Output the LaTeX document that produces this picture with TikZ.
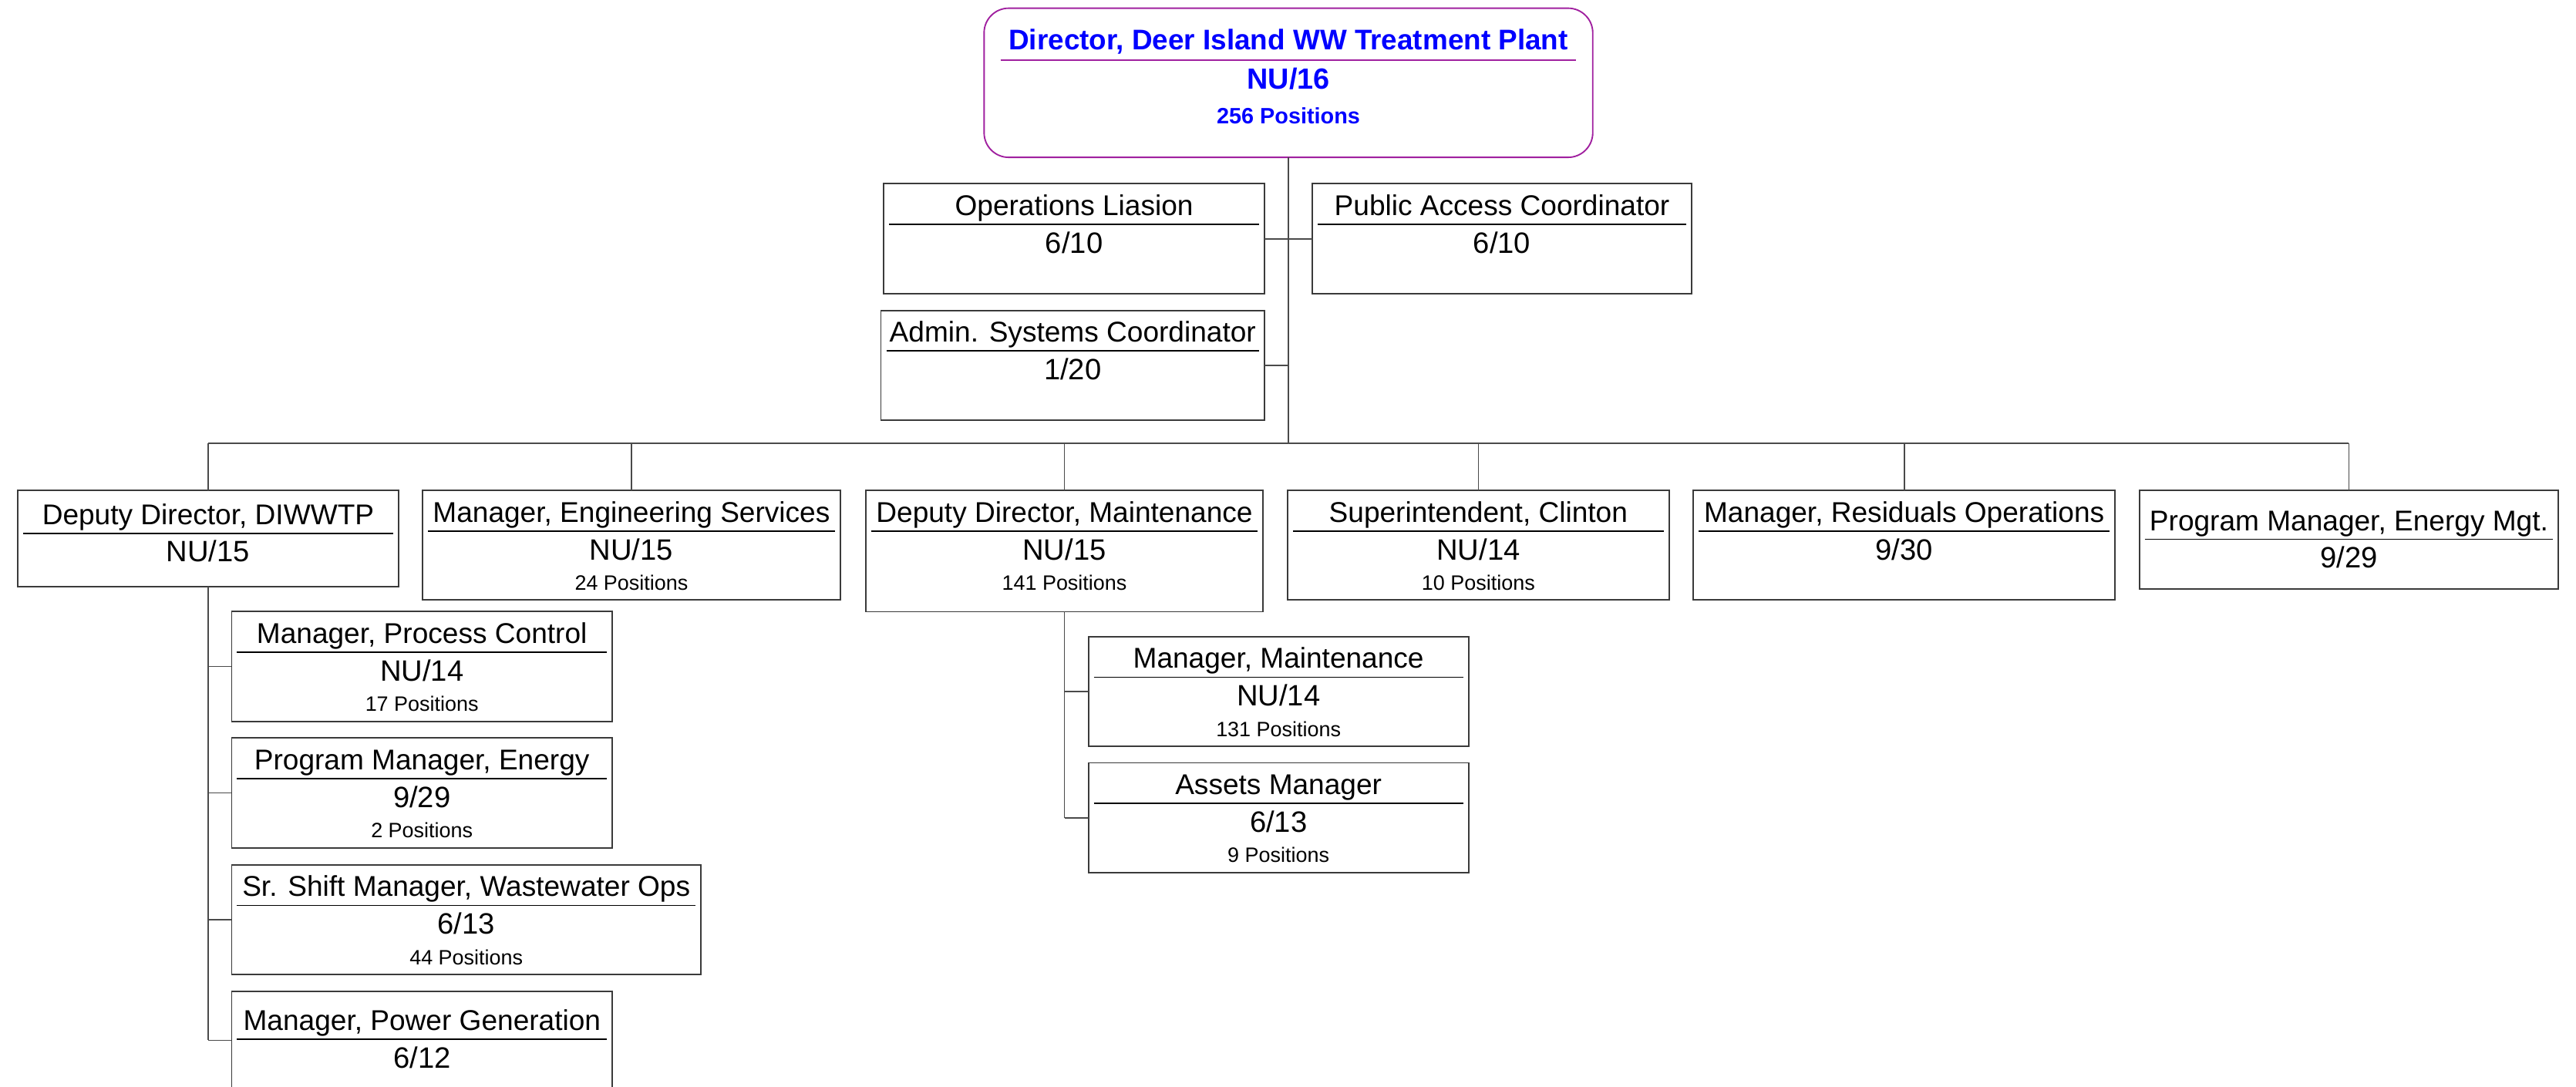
\documentclass[tikz,border=0pt]{standalone}
\usepackage{fontspec}
\setmainfont{Liberation Sans}
\usepackage{xcolor}
\definecolor{dirblue}{HTML}{0000FF}
\definecolor{dirpurple}{HTML}{A0209F}
\definecolor{boxgray}{HTML}{3A3A3A}
\definecolor{linegray}{HTML}{4A4A4A}
\usepackage{tikz}
\usetikzlibrary{calc}

% one position box: name, x1, y1, x2, y2, text shift, title, grade, positions
\newcommand{\orgbox}[9]{%
  \node[orgbox, minimum width={(#4-#2)*0.02cm}, minimum height={(#5-#3)*0.02cm}]
    (#1) at ({(#2+#4)/2}, {(#3+#5)/2}) {};
  \draw[divider] ($(#1.north west)+(3.3,24.7+#6)$) -- ($(#1.north east)+(-3.3,24.7+#6)$);
  \node[jobtitle] (#1-t) at ($(#1.north)+(0,19.3+#6)$) {#7};
  \node[grade] (#1-g) at ($(#1.north)+(0,42.2+#6)$) {#8};
  \if\relax\detokenize{#9}\relax\else
    \node[headcount] (#1-c) at ($(#1.north)+(0,60.7+#6)$) {#9};
  \fi}

\begin{document}
\begin{tikzpicture}[x=0.02cm, y=-0.02cm,
    orgbox/.style={draw=boxgray, line width=0.5pt, inner sep=0pt, outer sep=0pt},
    divider/.style={black, line width=0.5pt},
    jobtitle/.style={anchor=base, inner sep=0pt, font=\fontsize{9.9}{12}\selectfont},
    grade/.style={anchor=base, inner sep=0pt, font=\fontsize{10.2}{12}\selectfont},
    headcount/.style={anchor=base, inner sep=0pt, font=\fontsize{7.2}{9}\selectfont},
    link/.style={linegray, line width=0.45pt}]
  \useasboundingbox (0,0) rectangle (1568,661.3);
  \clip (0,0) rectangle (1568,661.3);

  % director box
  \node[draw=dirpurple, line width=0.5pt, rounded corners=0.3cm, inner sep=0pt, outer sep=0pt,
        minimum width={370.5*0.02cm}, minimum height={90.8*0.02cm}] (dir) at (784.25,50.4) {};
  \draw[dirpurple, line width=0.5pt] ($(dir.north west)+(10,31.8)$) -- ($(dir.north east)+(-10,31.8)$);
  \node[anchor=base, inner sep=0pt, text=dirblue, font=\fontsize{9.85}{12}\selectfont\bfseries]
    (dir-t) at ($(dir.north)+(0,25.5)$) {Director, Deer Island WW Treatment Plant};
  \node[anchor=base, inner sep=0pt, text=dirblue, font=\fontsize{10.1}{12}\selectfont\bfseries]
    (dir-g) at ($(dir.north)+(0,49)$) {NU/16};
  \node[anchor=base, inner sep=0pt, text=dirblue, font=\fontsize{7.7}{9}\selectfont\bfseries]
    (dir-c) at ($(dir.north)+(0,70.1)$) {256 Positions};

  % staff
  \orgbox{opsl}{537.9}{111.9}{769.7}{179}{0}{Operations Liasion}{6/10}{}
  \orgbox{pac}{798.7}{111.9}{1029.8}{179}{0}{Public Access Coordinator}{6/10}{}
  \orgbox{asc}{536.2}{189}{769.7}{255.9}{0}{Admin. Systems Coordinator}{1/20}{}

  % direct reports
  \orgbox{ddw}{10.9}{298.6}{242.5}{357.2}{1.3}{Deputy Director, DIWWTP}{NU/15}{}
  \orgbox{mes}{257.2}{298.6}{511.5}{365.3}{0}{Manager, Engineering Services}{NU/15}{24 Positions}
  \orgbox{ddm}{526.9}{298.6}{768.9}{372.4}{0}{Deputy Director, Maintenance}{NU/15}{141 Positions}
  \orgbox{sup}{783.8}{298.6}{1015.9}{365.3}{0}{Superintendent, Clinton}{NU/14}{10 Positions}
  \orgbox{mro}{1030.8}{298.6}{1287.3}{365.3}{0}{Manager, Residuals Operations}{9/30}{}
  \orgbox{pem}{1302.2}{298.6}{1557.3}{358.6}{5}{Program Manager, Energy Mgt.}{9/29}{}

  % under the deputy director
  \orgbox{mpc}{141}{372.3}{372.6}{439.2}{0}{Manager, Process Control}{NU/14}{17 Positions}
  \orgbox{pme}{141}{449.3}{372.6}{516.2}{0}{Program Manager, Energy}{9/29}{2 Positions}
  \orgbox{ssm}{141}{526.5}{426.6}{593.4}{0}{Sr. Shift Manager, Wastewater Ops}{6/13}{44 Positions}
  \orgbox{mpg}{141}{603.6}{372.8}{663}{4.5}{Manager, Power Generation}{6/12}{}

  % under maintenance
  \orgbox{mma}{662.5}{387.6}{893.9}{454.5}{0}{Manager, Maintenance}{NU/14}{131 Positions}
  \orgbox{asm}{662.5}{464.4}{893.9}{531.2}{0}{Assets Manager}{6/13}{9 Positions}

  % connectors
  \coordinate (bus) at (784.25,270);
  \draw[link] (dir.south) -- (bus);
  \draw[link] (opsl.east) -- (pac.west);
  \draw[link] (asc.east) -- (asc.east -| dir.south);
  \draw[link] (ddw.north |- bus) -- (pem.north |- bus);
  \foreach \n in {ddw,mes,ddm,sup,mro,pem}
    \draw[link] (\n.north) -- (\n.north |- bus);
  \draw[link] (ddw.south) -- (ddw.south |- mpg.west);
  \foreach \n in {mpc,pme,ssm,mpg}
    \draw[link] (\n.west) -- (\n.west -| ddw.south);
  \draw[link] (ddm.south) -- (ddm.south |- asm.west);
  \foreach \n in {mma,asm}
    \draw[link] (\n.west) -- (\n.west -| ddm.south);
\end{tikzpicture}
\end{document}
